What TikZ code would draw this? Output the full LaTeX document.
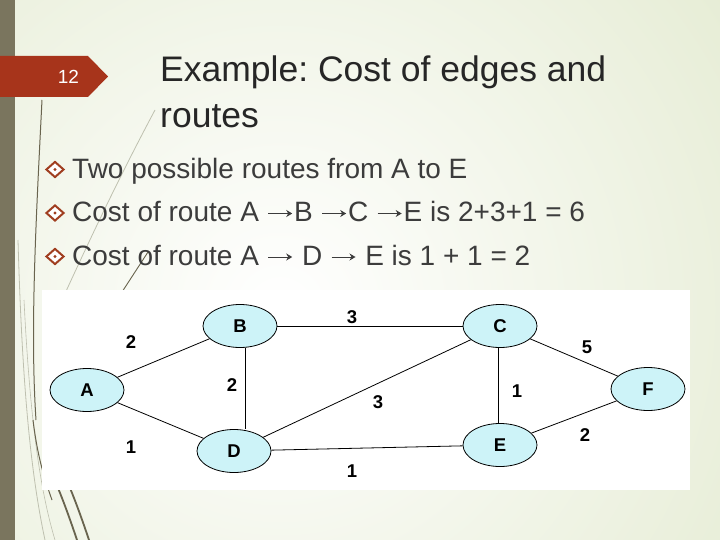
\documentclass[tikz,border=0pt]{standalone}
\usepackage{fontspec}
\setmainfont{Liberation Sans}
\usetikzlibrary{shapes.geometric,arrows.meta}
\frenchspacing
\definecolor{bgc}{RGB}{220,229,196}
\definecolor{barc}{RGB}{122,117,94}
\definecolor{tagc}{RGB}{167,52,27}
\definecolor{titc}{RGB}{38,38,38}
\definecolor{txtc}{RGB}{60,60,60}
\definecolor{bulc}{RGB}{160,62,32}
\definecolor{nodec}{RGB}{205,243,248}
\definecolor{grassd}{RGB}{105,100,78}
\definecolor{grassl}{RGB}{190,192,175}
\newcommand{\arr}{\hspace{1pt}\tikz[baseline=0pt,x=1pt,y=1pt]\draw[txtc,line width=1pt,-{Stealth[length=6pt,width=7pt]}] (0,8.5) -- (24,8.5);\hspace{1.5pt}}
\tikzset{
  vert/.style={ellipse, draw=black, line width=0.8pt, fill=nodec, minimum width=74pt, minimum height=43pt, inner sep=0pt, font=\fontsize{18.5}{18.5}\selectfont\bfseries},
  wlab/.style={font=\fontsize{18.5}{18.5}\selectfont\bfseries, inner sep=0pt},
  edge/.style={draw=black, line width=0.8pt},
  bul/.style={diamond, draw=bulc, line width=2pt, minimum width=18pt, minimum height=16pt, inner sep=0pt, fill=white},
  btxt/.style={anchor=base west, inner sep=0pt, text=txtc, font=\fontsize{28}{28}\selectfont},
  ttxt/.style={anchor=base west, inner sep=0pt, text=titc, font=\fontsize{35.5}{35.5}\selectfont}
}
\begin{document}
\begin{tikzpicture}[x=1pt,y=-1pt]
\useasboundingbox (0,0) rectangle (720,540);
% background
\fill[bgc] (0,0) rectangle (720,540);
\begin{scope}
\clip (0,0) rectangle (720,540);
\shade[inner color=white, outer color=bgc] (280,310) circle (780);
% grass decoration
\draw[grassl, line width=0.8pt] (155,110) .. controls (115,185) and (85,250) .. (62,300);
\draw[grassl, line width=0.8pt] (18,240) .. controls (22,380) and (30,470) .. (45,540);
\draw[grassl, line width=0.6pt] (24,300) .. controls (30,420) and (40,490) .. (55,540);
\draw[grassd, line width=1pt] (42,100) .. controls (36,220) and (30,330) .. (36,420);
\draw[grassd, line width=1pt] (33,420) .. controls (38,460) and (45,480) .. (52,500);
\draw[grassd, line width=1.8pt] (58,488) .. controls (65,505) and (72,525) .. (77,540);
\draw[grassd, line width=1.8pt] (70,488) .. controls (77,505) and (84,525) .. (89,540);
\draw[grassd, line width=0.9pt] (148,252) -- (122,292);
\end{scope}
% left bar
\fill[barc] (0,0) rectangle (15,540);
% slide number tag
\fill[tagc] (0,56) -- (88,56) -- (108,76.5) -- (88,97) -- (0,97) -- cycle;
\node[anchor=base, inner sep=0pt, text=white, font=\fontsize{19}{19}\selectfont] (num) at (68.5,83.5) {12};
% title
\node[ttxt] (t1) at (160,82) {Example: Cost of edges and};
\node[ttxt] (t2) at (160,128) {routes};
% bullets
\node[bul] (b1) at (55,169.5) {};
\node[bul] (b2) at (55,213) {};
\node[bul] (b3) at (55,256.5) {};
\foreach \b in {b1,b2,b3} {\fill[bulc] (\b.center) circle (1.7pt);}
\node[btxt] (l1) at (72,179) {Two possible routes from A to E};
\node[btxt] (l2) at (72,222) {Cost of route A \arr B \arr C \arr E is 2+3+1 = 6};
\node[btxt] (l3) at (72,265.5) {Cost of route A \arr{} D \arr{} E is 1 + 1 = 2};
% picture panel
\fill[white] (42,290) rectangle (690,490);
% graph
\node[vert] (A) at (87,390) {A};
\node[vert] (B) at (240,326) {B};
\node[vert] (D) at (234,451) {D};
\node[vert] (C) at (500,326) {C};
\node[vert] (E) at (500,445) {E};
\node[vert] (F) at (648,389) {F};
\path[edge] (A) -- (B);
\path[edge] (A) -- (D);
\path[edge] (B.south -| 245,0) -- (D.north -| 245,0);
\path[edge] (B) -- (C);
\path[edge] (D) -- (C);
\path[edge] (D) -- (E);
\path[edge] (C.south -| 498,0) -- (E.north -| 498,0);
\path[edge] (C) -- (F);
\path[edge] (E) -- (F);
\node[wlab] (wab) at (131,342) {2};
\node[wlab] (wad) at (131,447) {1};
\node[wlab] (wbd) at (232,385) {2};
\node[wlab] (wbc) at (352,317) {3};
\node[wlab] (wdc) at (378,402) {3};
\node[wlab] (wde) at (352,471) {1};
\node[wlab] (wce) at (517,391) {1};
\node[wlab] (wcf) at (587,347) {5};
\node[wlab] (wef) at (585,435) {2};
\end{tikzpicture}
\end{document}
